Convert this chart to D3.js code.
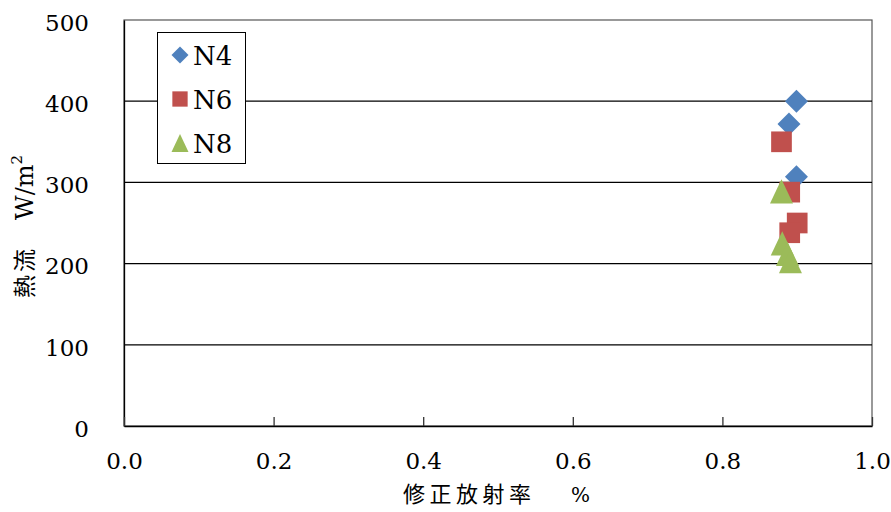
<!DOCTYPE html>
<html><head><meta charset="utf-8">
<script src="https://cdn.jsdelivr.net/npm/d3@7"></script>
<style>body{margin:0;background:#fff}</style>
</head><body>
<svg id="c" width="891" height="512"></svg>
<script>
// Data
const seriesNames = ["N4", "N6", "N8"];
const n4 = [[0.899, 400], [0.889, 372], [0.899, 307]];
const n6 = [[0.879, 350], [0.890, 288], [0.900, 250], [0.890, 238]];
const n8 = [[0.879, 289], [0.880, 225], [0.887, 212], [0.891, 203]];
const xTicks = [0.0, 0.2, 0.4, 0.6, 0.8, 1.0];
const yTicks = [0, 100, 200, 300, 400, 500];
const colors = ["#4F81BD", "#C0504D", "#9BBB59"];
const shapes = ["diamond", "square", "triangle"];

const svg = d3.select("#c");
const L = 124, R = 872, T = 20, B = 426;
const x = d3.scaleLinear().domain([0, 1]).range([L, R]);
const y = d3.scaleLinear().domain([0, 500]).range([B, T]);
const serif = "'DejaVu Serif', serif";
const cjk = "'Noto Sans CJK JP', sans-serif";

// plot border (top/right)
svg.append("rect").attr("x", L).attr("y", T).attr("width", R - L).attr("height", B - T)
  .attr("fill", "none").attr("stroke", "#555").attr("stroke-width", 1.2);

// gridlines
svg.append("g").selectAll("line").data(yTicks.filter(d => d > 0 && d < 500)).join("line")
  .attr("x1", L).attr("x2", R).attr("y1", d => y(d)).attr("y2", d => y(d))
  .attr("stroke", "#000").attr("stroke-width", 1.3);

// y axis
const yAxis = d3.axisLeft(y).tickValues(yTicks).tickSize(0).tickPadding(35).tickFormat(d3.format("d"));
const gy = svg.append("g").attr("transform", `translate(${L},0)`).call(yAxis);
gy.select(".domain").attr("stroke", "#000").attr("stroke-width", 1.3);
gy.selectAll("text").attr("font-family", serif).attr("font-size", 23).attr("fill", "#000")
  .attr("dy", "0.45em");

// x axis (ticks inside)
const xAxis = d3.axisBottom(x).tickValues(xTicks).tickSizeInner(-9).tickSizeOuter(0).tickPadding(43).tickFormat(d3.format(".1f"));
const gx = svg.append("g").attr("transform", `translate(0,${B})`).call(xAxis);
gx.select(".domain").attr("stroke", "#000").attr("stroke-width", 1.3);
gx.selectAll(".tick line").attr("stroke", "#333").attr("stroke-width", 1.3);
gx.selectAll("text").attr("font-family", serif).attr("font-size", 23).attr("fill", "#000").attr("dy", "0");

// marker paths
function markerPath(shape, s) {
  const p = d3.path();
  if (shape === "diamond") {
    p.moveTo(0, -s); p.lineTo(s, 0); p.lineTo(0, s); p.lineTo(-s, 0); p.closePath();
  } else if (shape === "square") {
    p.rect(-s * 0.9, -s * 0.9, s * 1.8, s * 1.8);
  } else {
    p.moveTo(0, -s * 1.05); p.lineTo(s, s * 1.05); p.lineTo(-s, s * 1.05); p.closePath();
  }
  return p.toString();
}

const allSeries = [n4, n6, n8];
allSeries.forEach((data, i) => {
  svg.append("g").selectAll("path").data(data).join("path")
    .attr("d", markerPath(shapes[i], 11.5))
    .attr("transform", d => `translate(${x(d[0])},${y(d[1])})`)
    .attr("fill", colors[i]);
});

// legend
const lg = svg.append("g");
lg.append("rect").attr("x", 157.5).attr("y", 32.5).attr("width", 88).attr("height", 131)
  .attr("fill", "#fff").attr("stroke", "#000").attr("stroke-width", 1);
seriesNames.forEach((n, i) => {
  const cy = 55 + i * 44;
  lg.append("path").attr("d", markerPath(shapes[i], 8.5))
    .attr("transform", `translate(180,${cy})`).attr("fill", colors[i]);
  lg.append("text").attr("x", 193).attr("y", cy + 10).text(n)
    .attr("font-family", serif).attr("font-size", 26).attr("fill", "#000");
});

// x axis title
const xt = svg.append("text").attr("x", 403).attr("y", 502).attr("fill", "#000");
xt.append("tspan").text("修正放射率").attr("font-family", cjk).attr("font-size", 22).attr("letter-spacing", 4.5);
xt.append("tspan").attr("x", 571).text("%").attr("font-family", serif).attr("font-size", 20);

// y axis title
const yt = svg.append("text").attr("transform", "translate(33,298) rotate(-90)").attr("fill", "#000");
yt.append("tspan").text("熱流").attr("font-family", cjk).attr("font-size", 23).attr("letter-spacing", 3);
yt.append("tspan").attr("dx", 26).text("W/m").attr("font-family", serif).attr("font-size", 24);
yt.append("tspan").text("2").attr("font-family", serif).attr("font-size", 15).attr("dy", -11);
</script>
</body></html>
